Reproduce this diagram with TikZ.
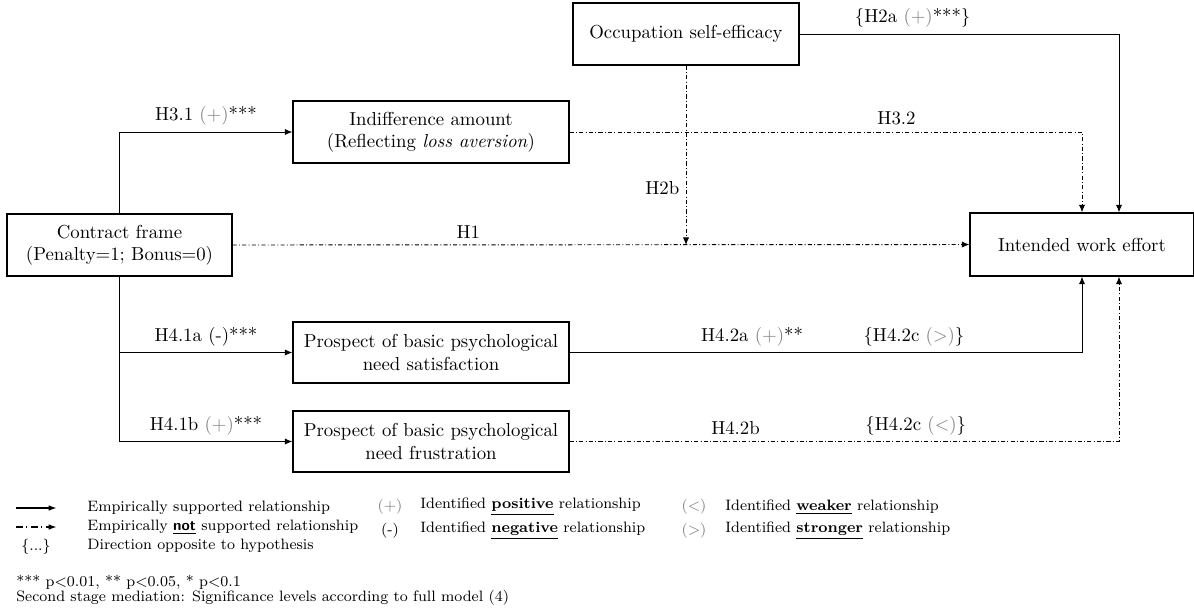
\documentclass[tikz,border=0pt]{standalone}
\usetikzlibrary{arrows.meta}
\newcommand\pxu{0.532pt}
% grey sign inside parentheses
\newcommand\gp[1]{\textcolor{black!50}{(#1)}}
\begin{document}
\begin{tikzpicture}[x=0.532pt, y=-0.532pt,
  box/.style={draw, line width=0.65pt, align=center, inner sep=0pt},
  sup/.style={line width=0.5pt, -{Latex[length=4pt,width=3.3pt]}},
  nsup/.style={sup, dash pattern=on 2.2pt off 1.2pt on 0.5pt off 1.2pt},
  lab/.style={font=\normalsize},
  leg/.style={font=\footnotesize, inner sep=0pt, anchor=west},
  legc/.style={font=\footnotesize, inner sep=0pt},
  legsup/.style={line width=0.9pt, -{Latex[length=4.4pt,width=3pt]}},
  legnsup/.style={legsup, dash pattern=on 3.6pt off 1.8pt on 0.7pt off 1.8pt}]
\useasboundingbox (0,0) rectangle (1194,614);

% variable boxes
\node[box, minimum width=226*\pxu, minimum height=62*\pxu] (occ) at (686,34) {Occupation self-efficacy};
\node[box, minimum width=276*\pxu, minimum height=62*\pxu] (ind) at (431,132) {Indifference amount\\(Reflecting \textit{loss aversion})};
\node[box, minimum width=225*\pxu, minimum height=62*\pxu] (con) at (119.5,245) {Contract frame\\(Penalty=1; Bonus=0)};
\node[box, minimum width=224*\pxu, minimum height=63*\pxu] (iwe) at (1082,244.5) {Intended work effort};
\node[box, minimum width=276*\pxu, minimum height=61*\pxu] (sat) at (431,352.5) {Prospect of basic psychological\\need satisfaction};
\node[box, minimum width=276*\pxu, minimum height=61*\pxu] (fru) at (431,441.5) {Prospect of basic psychological\\need frustration};

% paths from the contract frame
\draw[sup] (con.north) |- node[lab, pos=0.75, above]{H3.1 \gp{+}***} (ind.west);
\draw[sup] (con.south) |- node[lab, pos=0.75, above]{H4.1a (-)***} (sat.west);
\draw[sup] (con.south) |- node[lab, pos=0.75, above]{H4.1b \gp{+}***} (fru.west);
\draw[nsup] (con.east) -- node[lab, pos=0.32, above]{H1} (iwe.west);

% moderation and direct effect of self-efficacy
\coordinate (h2b) at (occ.south |- con.east);
\draw[nsup] (occ.south) -- node[lab, pos=0.68, left]{H2b} (h2b);
\draw[sup] (occ.east) -| node[lab, pos=0.177, above]{\{H2a \gp{+}***\}} ([xshift=37*\pxu]iwe.north);

% mediators into work effort
\draw[nsup] (ind.east) -| node[lab, pos=0.319, above]{H3.2} (iwe.north);
\draw[sup] (sat.east) -| node[lab, pos=0.178, above]{H4.2a \gp{+}**}
  node[lab, pos=0.336, above]{\{H4.2c \gp{>}\}} (iwe.south);
\draw[nsup] (fru.east) -| node[lab, pos=0.151, above]{H4.2b}
  node[lab, pos=0.315, above]{\{H4.2c \gp{<}\}} ([xshift=37*\pxu]iwe.south);

% legend
\coordinate (la1) at (16,508); \coordinate (lb1) at (57,508);
\coordinate (la2) at (16,527); \coordinate (lb2) at (57,527);
\draw[legsup] (la1) -- (lb1);
\draw[legnsup] (la2) -- (lb2);
\node[legc] (lbr) at (36,547) {\{...\}};
\node[leg] (lt1) at (87,508) {Empirically supported relationship};
\node[leg] (lt2) at (87,527) {Empirically \underline{\textsf{\textbf{not}}} supported relationship};
\node[leg] (lt3) at (87,546) {Direction opposite to hypothesis};

\node[legc] (lp) at (390,507) {\gp{+}};
\node[leg] (lpt) at (420,507) {Identified \underline{\textbf{positive}} relationship};
\node[legc] (ln) at (390,531) {(-)};
\node[leg] (lnt) at (420,531) {Identified \underline{\textbf{negative}} relationship};
\node[legc] (lw) at (694,507) {\gp{<}};
\node[leg] (lwt) at (725,507) {Identified \underline{\textbf{weaker}} relationship};
\node[legc] (ls) at (694,531) {\gp{>}};
\node[leg] (lst) at (725,531) {Identified \underline{\textbf{stronger}} relationship};

\node[leg] (n1) at (16,582) {*** p<0.01, ** p<0.05, * p<0.1};
\node[leg] (n2) at (16,598) {Second stage mediation: Significance levels according to full model (4)};
\end{tikzpicture}
\end{document}
